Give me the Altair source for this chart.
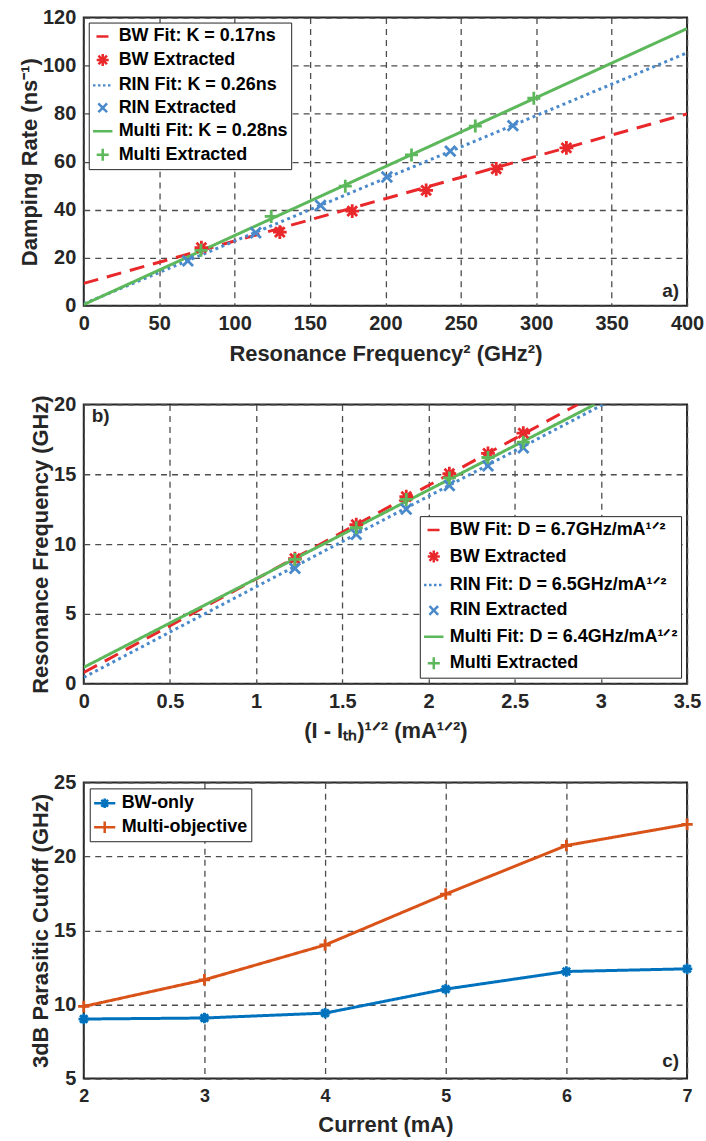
import altair as alt
import pandas as pd

FONT = "Liberation Sans"
INK = "#262626"
RED, BLUE, GREEN = "#E8282B", "#4A8ACB", "#5CB85A"
C_BLUE, C_ORANGE = "#0072BD", "#D95319"

# ---------------- panel a data ----------------
a_names = ["BW Fit: K = 0.17ns", "BW Extracted", "RIN Fit: K = 0.26ns",
           "RIN Extracted", "Multi Fit: K = 0.28ns", "Multi Extracted"]
a_bw_x = [78.0, 130.0, 178.0, 227.0, 273.5, 320.0]
a_bw_y = [24.2, 30.7, 39.4, 48.0, 57.0, 65.7]
a_rin_x = [69.0, 114.0, 157.0, 201.0, 243.0, 284.5]
a_rin_y = [18.7, 30.4, 41.8, 53.6, 64.4, 75.0]
a_multi_x = [77.7, 124.3, 173.4, 217.3, 259.6, 298.4]
a_multi_y = [23.1, 37.2, 49.8, 62.8, 74.8, 86.4]
a_fit_x = [0, 400]
a_bw_fit_y = [9.3, 79.9]
a_rin_fit_y = [0.8, 105.3]
a_multi_fit_y = [0.5, 115.4]
a_xticks = [0, 50, 100, 150, 200, 250, 300, 350, 400]
a_yticks = [0, 20, 40, 60, 80, 100, 120]

# ---------------- panel b data ----------------
b_names = ["BW Fit: D = 6.7GHz/mA¹ᐟ²", "BW Extracted", "RIN Fit: D = 6.5GHz/mA¹ᐟ²",
           "RIN Extracted", "Multi Fit: D = 6.4GHz/mA¹ᐟ²", "Multi Extracted"]
b_x = [1.225, 1.581, 1.871, 2.121, 2.345, 2.550]
b_bw_y = [8.95, 11.4, 13.4, 15.05, 16.5, 17.95]
b_rin_y = [8.26, 10.7, 12.5, 14.2, 15.6, 16.9]
b_multi_y = [8.9, 11.17, 13.2, 14.74, 16.2, 17.3]
b_bw_fit_x, b_bw_fit_y = [0, 2.866], [0.8, 20]
b_rin_fit_x, b_rin_fit_y = [0, 3.013], [0.45, 20]
b_multi_fit_x, b_multi_fit_y = [0, 2.965], [1.17, 20]
b_xticks = [0, 0.5, 1, 1.5, 2, 2.5, 3, 3.5]
b_yticks = [0, 5, 10, 15, 20]

# ---------------- panel c data ----------------
c_names = ["BW-only", "Multi-objective"]
c_current = [2, 3, 4, 5, 6, 7]
c_bw_only = [9.02, 9.09, 9.42, 11.04, 12.23, 12.41]
c_multi = [9.87, 11.67, 14.02, 17.46, 20.74, 22.17]
c_xticks = [2, 3, 4, 5, 6, 7]
c_yticks = [5, 10, 15, 20, 25]

# ---------------- marker paths ----------------
ASTER = "M0,-1L0,1M-1,0L1,0M-0.71,-0.71L0.71,0.71M-0.71,0.71L0.71,-0.71"
XMARK = "M-0.8,-0.8L0.8,0.8M-0.8,0.8L0.8,-0.8"
PLUS = "M0,-1L0,1M-1,0L1,0"
L_LINE = "M-1,0L1,0"
L_ASTER = "M0,-0.62L0,0.62M-0.62,0L0.62,0M-0.44,-0.44L0.44,0.44M-0.44,0.44L0.44,-0.44"
L_X = "M-0.45,-0.45L0.45,0.45M-0.45,0.45L0.45,-0.45"
L_PLUS = "M0,-0.62L0,0.62M-0.62,0L0.62,0"
LC_BW = "M-1,0L1,0M0,-0.45L0,0.45M-0.45,0L0.45,0M-0.32,-0.32L0.32,0.32M-0.32,0.32L0.32,-0.32"
LC_MULTI = "M-1,0L1,0M0,-0.55L0,0.55"

W = 605
LABEL_FS = 20
TITLE_FS = 22


def df(xs, ys, name):
    return pd.DataFrame({"x": xs, "y": ys, "series": name})


def xenc(dom, vals, title, fmt, tpad, lpad=8, lfs=LABEL_FS):
    return alt.X("x:Q", scale=alt.Scale(domain=dom, nice=False, zero=False),
                 axis=alt.Axis(values=vals, title=title, format=fmt, titlePadding=tpad,
                               labelPadding=lpad, labelFontSize=lfs))


def yenc(dom, vals, title, tpad):
    return alt.Y("y:Q", scale=alt.Scale(domain=dom, nice=False, zero=False),
                 axis=alt.Axis(values=vals, title=title, format="d", titlePadding=tpad))


def annot(text, align, baseline, xpix, ypix):
    return alt.Chart(pd.DataFrame({"t": [text]})).mark_text(
        align=align, baseline=baseline, font=FONT, fontSize=19, fontWeight="bold", color=INK
    ).encode(x=alt.value(xpix), y=alt.value(ypix), text="t:N")


def line_layer(d, x, y, color, dash, width=3, clip=True):
    return alt.Chart(d).mark_line(strokeWidth=width, clip=clip, color=color, strokeDash=dash).encode(x=x, y=y)


def point_layer(d, x, y, color, shape, size, width=2.8):
    return alt.Chart(d).mark_point(filled=False, strokeWidth=width, size=size, opacity=1,
                                   color=color, shape=shape).encode(x=x, y=y)


def fit_panel(names, pts, fits, xdom, xvals, xtitle, xfmt, ydom, yvals, ytitle,
              h, orient, offset, rowpad, ytpad, xtpad, ann):
    x = xenc(xdom, xvals, xtitle, xfmt, xtpad)
    y = yenc(ydom, yvals, ytitle, ytpad)
    colors = [RED, BLUE, GREEN]
    dashes = [[15, 9], [3, 3.5], [1, 0]]
    shapes = [ASTER, XMARK, PLUS]
    sizes = [190, 170, 170]
    layers = []
    for i in range(3):
        layers.append(line_layer(fits[i], x, y, colors[i], dashes[i]))
    for i in range(3):
        layers.append(point_layer(pts[i], x, y, colors[i], shapes[i], sizes[i]))
    legend = alt.Legend(title=None, orient=orient, offset=offset, rowPadding=rowpad, symbolSize=380)
    key = alt.Chart(pd.concat(pts)).transform_filter("false").mark_point(
        filled=False, strokeWidth=2.6, opacity=1).encode(
        x=x, y=y,
        color=alt.Color("series:N", legend=legend, scale=alt.Scale(
            domain=names, range=[RED, RED, BLUE, BLUE, GREEN, GREEN])),
        shape=alt.Shape("series:N", legend=legend, scale=alt.Scale(
            domain=names, range=[L_LINE, L_ASTER, L_LINE, L_X, L_LINE, L_PLUS])),
        strokeDash=alt.StrokeDash("series:N", legend=legend, scale=alt.Scale(
            domain=names, range=[[0, 3.5, 12, 30], [1, 0], [2.5, 2.5], [1, 0], [1, 0], [1, 0]])),
    )
    layers.append(key)
    layers.append(ann)
    return alt.layer(*layers).properties(width=W, height=h)


# ---------------- panel a ----------------
HA = 289
a_pts = [df(a_bw_x, a_bw_y, a_names[1]), df(a_rin_x, a_rin_y, a_names[3]),
         df(a_multi_x, a_multi_y, a_names[5])]
a_fits = [df(a_fit_x, a_bw_fit_y, a_names[0]), df(a_fit_x, a_rin_fit_y, a_names[2]),
          df(a_fit_x, a_multi_fit_y, a_names[4])]
panel_a = fit_panel(a_names, a_pts, a_fits, [0, 400], a_xticks, "Resonance Frequency² (GHz²)", "d",
                    [0, 120], a_yticks, "Damping Rate (ns⁻¹)", HA, "top-left", 5, 2.5, 1, 10,
                    annot("a)", "right", "bottom", W - 8, HA - 5))

# ---------------- panel b ----------------
HB = 280
b_pts = [df(b_x, b_bw_y, b_names[1]), df(b_x, b_rin_y, b_names[3]), df(b_x, b_multi_y, b_names[5])]
b_fits = [df(b_bw_fit_x, b_bw_fit_y, b_names[0]), df(b_rin_fit_x, b_rin_fit_y, b_names[2]),
          df(b_multi_fit_x, b_multi_fit_y, b_names[4])]
panel_b = fit_panel(b_names, b_pts, b_fits, [0, 3.5], b_xticks, "(I - Iₜₕ)¹ᐟ² (mA¹ᐟ²)", "~g",
                    [0, 20], b_yticks, "Resonance Frequency (GHz)", HB, "bottom-right", 6, 5.5, 1, 9,
                    annot("b)", "left", "top", 8, 3))

# ---------------- panel c ----------------
HC = 297
cx = xenc([2, 7], c_xticks, "Current (mA)", "d", 9, lpad=9, lfs=18)
cy = yenc([5, 25], c_yticks, "3dB Parasitic Cutoff (GHz)", 1)
c_bw_df = df(c_current, c_bw_only, c_names[0])
c_multi_df = df(c_current, c_multi, c_names[1])
c_legend = alt.Legend(title=None, orient="top-left", offset=6, rowPadding=2, symbolSize=450)
c_key = alt.Chart(pd.concat([c_bw_df, c_multi_df])).transform_filter("false").mark_point(
    filled=False, strokeWidth=2.8, opacity=1).encode(
    x=cx, y=cy,
    color=alt.Color("series:N", legend=c_legend, scale=alt.Scale(domain=c_names, range=[C_BLUE, C_ORANGE])),
    shape=alt.Shape("series:N", legend=c_legend, scale=alt.Scale(domain=c_names, range=[LC_BW, LC_MULTI])),
)
panel_c = alt.layer(
    line_layer(c_bw_df, cx, cy, C_BLUE, [1, 0], clip=False),
    line_layer(c_multi_df, cx, cy, C_ORANGE, [1, 0], clip=False),
    point_layer(c_bw_df, cx, cy, C_BLUE, ASTER, 110),
    point_layer(c_multi_df, cx, cy, C_ORANGE, PLUS, 130),
    c_key,
    annot("c)", "right", "bottom", W - 8, HC - 8),
).properties(width=W, height=HC)

chart = alt.vconcat(panel_a, panel_b, panel_c, spacing=99, bounds="flush").resolve_scale(
    color="independent", shape="independent", strokeDash="independent"
).resolve_legend(
    color="independent", shape="independent", strokeDash="independent"
).properties(
    padding={"left": 17, "top": 5, "right": 1, "bottom": 2}
).configure_view(
    stroke=INK, strokeWidth=2
).configure_axis(
    grid=True, gridDash=[6, 5], gridColor="#4d4d4d", gridWidth=1.3, gridOpacity=1,
    ticks=False, domain=False, labelFlush=False, labelPadding=8,
    labelFont=FONT, labelFontSize=LABEL_FS, labelFontWeight="bold", labelColor=INK,
    titleFont=FONT, titleFontSize=TITLE_FS, titleFontWeight="bold", titleColor=INK,
).configure_legend(
    labelFont=FONT, labelFontSize=18, labelFontWeight="bold", labelColor="black",
    strokeColor=INK, fillColor="white", padding=3, labelOffset=5, labelLimit=400,
    symbolStrokeWidth=2.5,
)

chart.save("out.html", embed_options={"renderer": "svg", "actions": False})
